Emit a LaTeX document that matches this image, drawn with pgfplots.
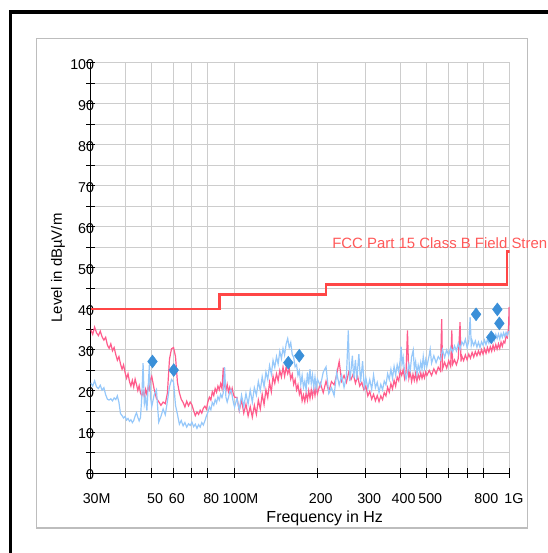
\documentclass[border=0pt]{standalone}
\usepackage{pgfplots}
\pgfplotsset{compat=1.18}
\usepackage{pgfplotstable}
\usepackage{fontspec}
\setmainfont{Liberation Sans}

\definecolor{pinkT}{RGB}{255,92,140}
\definecolor{blueT}{RGB}{150,200,250}
\definecolor{limitR}{RGB}{255,70,70}
\definecolor{diaB}{RGB}{58,143,216}
\definecolor{gridG}{RGB}{205,205,205}

% horizontal trace (pink), frequency in MHz, level in dBuV/m
\pgfplotstableread{
f L
30 35.0
30.5 33.8
31 35.6
31.5 34.2
32 33.5
32.5 34.6
33 33.2
33.5 32.4
34 33.1
34.5 31.2
35 30.4
35.5 31.5
36 29.8
36.5 30.6
37 28.9
37.5 27.5
38 28.4
38.5 26.6
39 25.3
39.5 26.4
40 24.5
40.5 23.1
41 24.2
41.5 22.3
42 21.2
42.5 22.6
43 21.0
43.5 22.9
44 21.6
44.5 20.1
45 21.3
45.5 19.5
46 18.8
46.5 19.9
47 18.6
47.5 20.4
48 19.2
48.5 21.0
49 20.3
49.5 22.8
50 23.6
51 20.5
52 18.2
53 17.4
54 16.5
55 17.3
56 16.9
57 19.5
58 27.8
59 30.3
60 30.6
61 28.4
62 22.1
63 19.6
64 18.0
65 17.2
66 16.1
67 17.5
68 16.4
69 17.3
70 16.6
71 15.2
72 14.0
73 14.9
74 14.3
75 15.3
76 14.6
77 15.8
78 16.3
79 15.6
80 17.4
81 18.5
82 17.8
83 19.8
84 18.9
85 20.6
86 19.7
87 21.2
88 20.3
89 21.8
90 20.6
91 25.7
92 21.3
93 20.1
94 21.6
95 19.8
96 20.9
97 19.6
98 20.7
99 19.2
100 18.5
102 18.4
104 15.2
106 17.9
108 14.6
110 16.8
112 13.9
114 16.2
116 13.6
118 16.5
120 14.3
122 17.8
124 15.6
126 19.2
128 16.7
130 20.3
132 18.4
134 22.1
136 19.8
138 23.6
140 21.9
142 24.2
144 22.5
146 25.0
148 23.4
150 25.8
152 23.6
154 25.9
156 24.2
158 25.4
160 22.9
162 24.1
164 21.6
166 22.8
168 20.3
170 21.5
172 19.2
174 20.4
176 17.6
178 19.0
180 17.4
182 19.5
184 17.8
186 20.1
188 18.2
190 20.3
192 18.6
194 20.8
196 18.9
198 21.0
200 19.3
205 21.9
210 19.6
215 22.4
220 19.8
225 22.3
230 21.5
235 24.0
240 27.2
245 22.4
250 23.8
255 22.1
260 24.6
265 22.8
270 24.2
275 21.9
280 23.6
285 21.2
290 22.1
295 20.3
300 21.2
305 18.8
310 19.9
315 18.0
320 19.2
325 17.6
330 18.9
335 17.4
340 18.8
345 17.9
350 19.6
355 18.8
360 20.9
365 19.7
370 21.8
375 20.5
380 22.6
385 21.2
390 23.4
395 22.5
400 24.9
405 23.8
410 25.2
415 23.0
420 24.6
425 34.8
430 23.1
435 24.5
440 22.3
445 24.1
450 22.6
455 24.3
460 22.4
465 24.0
470 23.0
475 24.4
480 23.1
485 24.3
490 23.2
495 24.6
500 23.8
510 25.0
520 23.8
530 25.4
540 24.2
550 25.8
560 24.9
566 37.5
570 25.4
580 27.0
590 25.6
600 27.4
610 26.0
616 34.8
620 26.5
630 27.6
640 26.4
650 27.9
660 36.8
665 27.2
670 28.5
680 27.4
690 28.8
700 27.6
710 29.0
720 28.0
730 29.4
740 28.3
750 29.6
760 28.6
770 29.8
780 28.8
790 30.1
800 29.0
810 30.3
820 29.2
830 30.6
840 29.5
850 30.8
860 29.7
870 31.2
880 30.0
890 31.3
900 30.2
910 31.5
920 30.4
930 31.9
940 30.9
950 32.1
960 31.7
970 33.4
980 33.0
990 35.2
995 40.5
1000 36.0
}\pinkdata

% vertical trace (light blue)
\pgfplotstableread{
f L
30 22.0
30.5 21.2
31 22.5
31.5 21.0
32 20.6
32.5 21.4
33 20.2
33.5 20.8
34 19.1
34.5 18.0
35 17.8
35.5 18.1
36 17.6
36.5 18.3
37 17.9
37.5 18.8
38 17.2
38.5 14.5
39 14.0
39.5 13.4
40 13.8
40.5 12.9
41 13.3
41.5 12.6
42 13.0
42.5 12.3
43 12.8
43.5 13.9
44 14.7
44.5 13.6
45 12.7
45.5 13.5
46 18.5
46.5 26.8
47 16.8
47.5 18.4
48 15.2
48.5 20.8
49 26.3
49.5 18.5
50 16.2
51 19.0
52 20.3
53 12.4
54 13.8
55 15.6
56 14.2
57 17.5
58 21.0
59 22.8
60 22.2
61 16.5
62 14.3
63 11.9
64 12.8
65 11.5
66 12.3
67 11.2
68 12.0
69 11.6
70 12.4
71 11.3
72 11.9
73 10.9
74 11.8
75 11.2
76 12.3
77 11.7
78 12.7
79 13.9
80 14.8
81 16.1
82 15.4
83 17.2
84 16.5
85 17.9
86 17.1
87 18.6
88 17.8
89 19.2
90 18.4
91 19.6
92 25.8
93 18.5
94 17.3
95 18.4
96 19.8
97 20.3
98 18.9
99 17.2
100 16.1
102 18.2
104 15.4
106 19.0
108 16.2
110 19.4
112 16.8
114 20.2
116 17.3
118 20.8
120 19.0
122 22.3
124 20.1
126 23.5
128 21.0
130 24.6
132 22.8
134 26.2
136 24.1
138 27.5
140 25.8
142 28.4
144 26.6
146 29.7
148 27.9
150 30.4
152 28.8
154 31.5
156 32.8
158 30.6
160 31.8
162 28.9
164 28.2
166 25.9
168 26.4
170 23.8
172 24.9
174 21.6
176 23.8
178 20.9
180 22.4
182 20.3
184 24.5
186 21.6
188 25.3
190 21.8
192 23.9
194 20.8
196 23.4
198 20.7
200 22.9
205 21.2
210 24.6
215 25.9
220 19.4
225 20.8
230 18.9
235 24.5
240 21.4
245 23.8
250 20.9
255 23.6
259 34.8
262 22.4
265 25.1
268 28.6
271 23.2
275 27.6
278 22.8
283 29.0
287 22.1
292 27.3
296 20.9
300 23.2
305 20.6
310 22.8
315 20.4
320 23.9
325 20.8
330 22.1
335 19.7
340 21.6
345 20.3
350 22.4
355 21.5
360 24.2
365 22.8
370 25.3
375 23.1
380 26.0
385 23.9
390 26.4
395 24.8
400 27.6
403 30.8
406 26.5
410 28.2
415 24.6
420 22.9
425 24.4
430 26.5
435 25.0
440 28.3
446 30.0
450 25.4
455 27.2
460 24.1
465 26.3
470 24.9
475 27.0
480 25.3
485 28.4
490 25.7
495 27.6
500 26.0
510 28.8
514 30.2
520 26.8
530 28.6
540 26.9
550 28.4
560 27.6
570 30.1
580 28.2
590 30.0
600 28.7
610 30.6
620 29.5
630 31.0
640 29.8
650 31.6
660 30.2
670 32.0
680 31.2
690 32.6
700 30.6
710 32.1
718 38.0
725 31.2
730 32.3
740 31.1
750 32.2
760 30.7
770 31.9
780 30.6
790 32.0
800 31.2
810 32.4
820 31.3
830 32.6
840 31.7
850 32.9
860 32.0
870 33.6
880 32.4
890 33.8
900 32.8
910 33.9
920 32.7
930 34.0
940 33.1
950 34.2
960 33.3
970 34.3
980 33.6
990 34.4
1000 34.6
}\bluedata

\begin{document}
\begin{tikzpicture}
% page frame, in pixels of the reference (origin top left)
\begin{scope}[shift={(-68.03pt,354.75pt)}, x=0.75pt, y=-0.75pt]
  \useasboundingbox (0,0) rectangle (548,553);
  \draw[gridG!80!gray, line width=1.1pt] (36.5,38.5) rectangle (527.5,528);
  \draw[black, line width=2.6pt] (10.7,11.8) rectangle (620,620);
\end{scope}

\begin{axis}[
    at={(0,0)}, anchor=south west,
    scale only axis,
    width=314.25pt, height=307.5pt,
    xmode=log,
    xmin=30, xmax=1000,
    ymin=0, ymax=100,
    enlargelimits=false,
    axis lines=left,
    axis line style={-, black, line width=0.75pt},
    xtick={30,40,50,60,70,80,100,200,300,400,500,600,700,800,1000},
    xticklabels={30\rlap{M}\hspace*{5pt},,50,60,,80,100\rlap{M}\hspace*{5pt},200,300,400,500,,,800,1\rlap{G}\hspace*{7pt}},
    minor xtick={},
    ytick={0,10,...,100},
    yticklabels={0,10,20,30,40,50,60,70,80,90,100},
    minor ytick={5,15,...,95},
    grid=both,
    grid style={gridG, line width=0.75pt},
    minor grid style={gridG, line width=0.75pt},
    tick align=center,
    major tick length=7pt,
    minor tick length=7pt,
    tick style={black, line width=0.75pt},
    ticklabel style={font=\fontsize{10.7}{12}\selectfont},
    xticklabel style={anchor=base, xshift=2.5pt, yshift=-19.3pt},
    yticklabel style={anchor=east, inner sep=0pt, xshift=6.2pt, yshift=-1.2pt},
    xlabel={Frequency in Hz},
    xlabel style={at={(axis description cs:0.5585,-0.1098)}, anchor=center, font=\fontsize{12}{14}\selectfont},
    ylabel={Level in dBµV/m},
    ylabel style={at={(axis description cs:-0.078,0.5)}, anchor=center, font=\fontsize{11.2}{13}\selectfont},
]
\addplot[pinkT, line width=0.9pt, mark=none] table[x=f, y=L] {\pinkdata};
\addplot[blueT, line width=0.9pt, mark=none] table[x=f, y=L] {\bluedata};
% FCC Part 15 Class B limit
\addplot[limitR, line width=1.9pt, mark=none] coordinates {
    (30,40) (88,40) (88,43.5) (215,43.5) (215,46) (978,46) (978,54) (1000,54)
};
% final measurement points
\addplot[only marks, mark=diamond*, mark size=4.8pt, draw=diaB, fill=diaB] coordinates {
    (50.3,27.2) (60.1,25.1) (156.8,26.9) (171.9,28.6)
    (754.6,38.7) (857,33.1) (901.8,39.9) (917,36.5)
};
\end{axis}

\begin{scope}[shift={(-68.03pt,354.75pt)}, x=0.75pt, y=-0.75pt]
  \node[anchor=base west, inner sep=0pt, text=limitR!90!white, font=\fontsize{11.2}{13}\selectfont] at (332,248.3) {FCC Part 15 Class B Field Stren};
\end{scope}
\end{tikzpicture}
\end{document}
